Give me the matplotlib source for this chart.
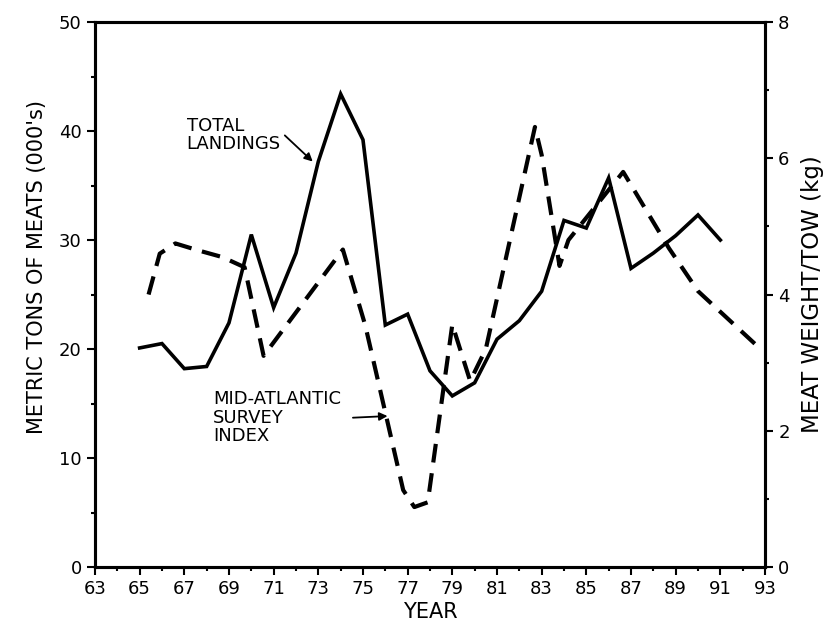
import numpy as np
import matplotlib.pyplot as plt
from matplotlib.ticker import MultipleLocator

# total landings (left axis, metric tons of meats, 000's)
land_years = [65, 66, 67, 68, 69, 70, 71, 72, 73, 74, 75, 76, 77, 78, 79, 80,
              81, 82, 83, 84, 85, 86, 87, 88, 89, 90, 91]
landings = [20.1, 20.5, 18.2, 18.4, 22.4, 30.5, 23.8, 28.8, 37.2, 43.4, 39.2, 22.2,
            23.2, 18.0, 15.7, 16.9, 20.9, 22.6, 25.3, 31.8, 31.1, 35.7, 27.4, 28.8,
            30.4, 32.3, 30.0]

# mid-atlantic survey index (right axis, meat weight/tow kg)
survey_years = [65.4, 65.9, 66.6, 67.6, 68.7, 69.7, 70.55, 74.1, 75.1, 76.8, 77.3,
                77.9, 79.0, 79.8, 80.5, 82.7, 83.0, 83.8, 84.2, 86.65, 87.2, 88.7,
                90.0, 92.8]
survey = [4.0, 4.6, 4.75, 4.65, 4.55, 4.4, 3.1, 4.66, 3.55, 1.13, 0.88,
          0.95, 3.56, 2.73, 3.2, 6.46, 6.05, 4.42, 4.8, 5.8, 5.5, 4.68,
          4.05, 3.2]

plt.rcParams['font.family'] = 'DejaVu Sans'
fig = plt.figure(figsize=(8.28, 6.28), dpi=100)
ax = fig.add_axes([0.1147, 0.0971, 0.8092, 0.8678])
ax2 = ax.twinx()

ax.plot(land_years, landings, color='black', lw=2.6, solid_joinstyle='miter')
ax2.plot(survey_years, survey, color='black', lw=3, linestyle=(0, (4.5, 2.6)))

ax.set_xlim(63, 93)
ax.set_ylim(0, 50)
ax2.set_ylim(0, 8)
ax.set_xticks(np.arange(63, 94, 2))
ax.xaxis.set_minor_locator(MultipleLocator(1))
ax.yaxis.set_major_locator(MultipleLocator(10))
ax.yaxis.set_minor_locator(MultipleLocator(5))
ax2.yaxis.set_major_locator(MultipleLocator(2))
ax2.yaxis.set_minor_locator(MultipleLocator(1))

for a in (ax, ax2):
    for s in a.spines.values():
        s.set_linewidth(2.2)
    a.tick_params(which='major', length=6, width=1.5, labelsize=13)
    a.tick_params(which='minor', length=3, width=1.5)

ax.set_xlabel("YEAR", fontsize=15, labelpad=3)
ax.set_ylabel("METRIC TONS OF MEATS (000's)", fontsize=15)
ax.yaxis.set_label_coords(-0.072, 0.55)
ax2.set_ylabel("MEAT WEIGHT/TOW (kg)", fontsize=16.5, labelpad=8)

ax.text(67.1, 39.6, "TOTAL\nLANDINGS", fontsize=13, ha='left', va='center',
        linespacing=1.0)
ax.annotate("", xy=(72.75, 37.2), xytext=(71.5, 39.6),
            arrowprops=dict(arrowstyle='-|>', color='black', lw=1.3,
                            shrinkA=0, shrinkB=0, mutation_scale=12))
ax.text(68.3, 13.7, "MID-ATLANTIC\nSURVEY\nINDEX", fontsize=13, ha='left', va='center',
        linespacing=1.05)
ax.annotate("", xy=(76.1, 13.85), xytext=(74.55, 13.7),
            arrowprops=dict(arrowstyle='-|>', color='black', lw=1.3,
                            shrinkA=0, shrinkB=0, mutation_scale=12))

fig.savefig("out.png", dpi=100)
